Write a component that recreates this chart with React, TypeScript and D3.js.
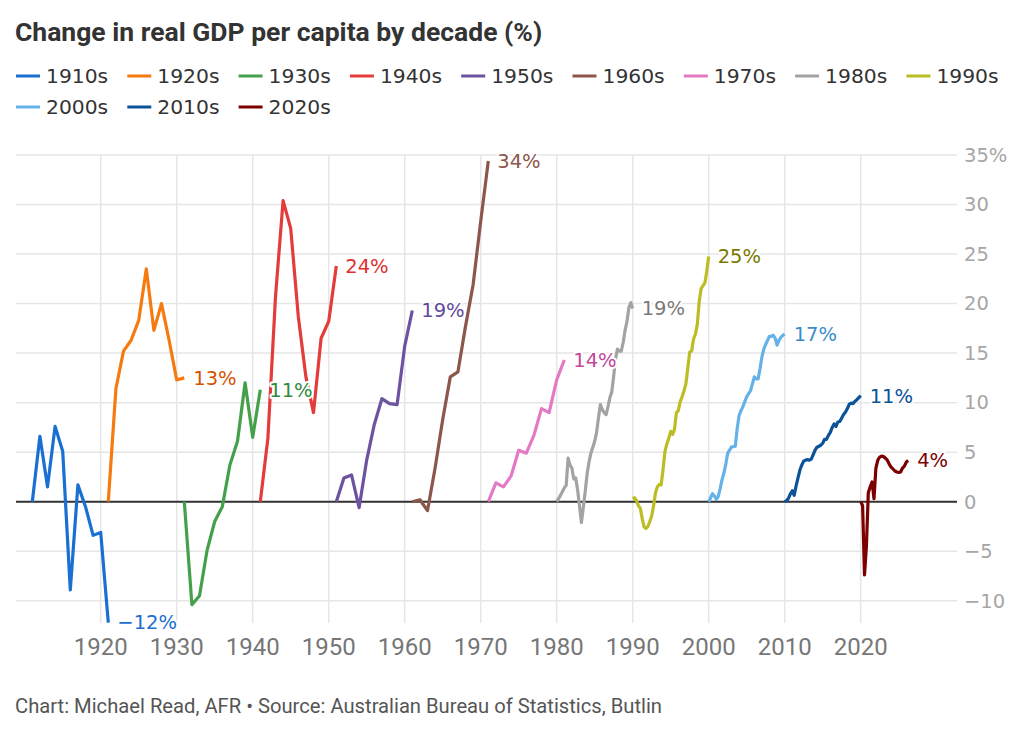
import * as d3 from 'd3'

const decades = ['1910s', '1920s', '1930s', '1940s', '1950s', '1960s', '1970s', '1980s', '1990s', '2000s', '2010s', '2020s']
const lineColors = ['#1a6fd2', '#f57b10', '#45a04b', '#e43c3a', '#6c52a1', '#8c564b', '#e479c4', '#a3a3a3', '#bcbd22', '#65b2e8', '#0c5299', '#7d0000']
const labelColors = ['#1a6fd2', '#d35400', '#2f8a3e', '#e0312f', '#62499a', '#8c564b', '#c2479b', '#7a7a7a', '#7a7a00', '#3a8dc8', '#0c5299', '#7d0000']
const endLabels = ['−12%', '13%', '11%', '24%', '19%', '34%', '14%', '19%', '25%', '17%', '11%', '4%']

// first year of each series and spacing between points (years)
const startYears = [1911, 1921, 1931, 1941, 1951, 1961, 1971, 1980, 1990, 2000, 2010, 2020]
const steps = [1, 1, 1, 1, 1, 1, 1, 0.25, 0.25, 0.25, 0.25, 0.25]

const v1910s = [0, 6.6, 1.5, 7.6, 5.1, -8.9, 1.7, -0.5, -3.4, -3.1, -12.2]
const v1920s = [0, 11.4, 15.2, 16.3, 18.3, 23.5, 17.3, 20.0, 16.3, 12.3, 12.5]
const v1930s = [0, -10.4, -9.5, -4.9, -2.0, -0.5, 3.7, 6.1, 12.0, 6.5, 11.3]
const v1940s = [0, 6.4, 20.7, 30.4, 27.6, 18.7, 12.6, 9.0, 16.5, 18.2, 23.8]
const v1950s = [0, 2.4, 2.7, -0.6, 4.2, 7.8, 10.4, 9.9, 9.8, 15.7, 19.3]
const v1960s = [0, 0.2, -0.9, 3.4, 8.3, 12.6, 13.1, 17.7, 21.9, 28.3, 34.4]
const v1970s = [0, 1.9, 1.5, 2.6, 5.2, 4.9, 6.7, 9.4, 9.0, 12.3, 14.3]
const v1980s = [0, 0.3, 0.65, 1.0, 1.4, 1.65, 4.4, 3.7, 3.4, 2.3, 2.4, 1.2, -0.4, -2.1, -0.6, 1.0, 2.8, 4.0, 4.9, 5.5, 6.1, 7.0, 8.5, 9.8, 9.3, 9.0, 8.8, 9.6, 10.5, 11.1, 12.7, 14.5, 15.4, 15.2, 15.2, 16.1, 17.3, 18.2, 19.6, 20.1, 19.5]
const v1990s = [0.3, 0.4, 0.1, -0.4, -0.65, -1.7, -2.55, -2.7, -2.5, -2.0, -1.45, -0.4, 0.9, 1.5, 1.75, 1.7, 3.3, 5.1, 5.85, 6.4, 7.1, 6.8, 7.3, 9.0, 9.2, 10.1, 10.6, 11.2, 11.9, 13.5, 15.1, 15.2, 16.4, 16.9, 17.9, 20.2, 21.5, 21.8, 22.1, 23.3, 24.75]
const v2000s = [0, 0.4, 0.8, 0.6, 0.25, 0.5, 1.3, 2.2, 2.9, 3.8, 4.9, 5.2, 5.55, 5.56, 5.6, 7.4, 8.7, 9.2, 9.6, 10.1, 10.6, 10.9, 11.2, 11.9, 12.6, 12.4, 12.4, 13.4, 14.6, 15.4, 15.9, 16.3, 16.7, 16.7, 16.8, 16.5, 15.8, 16.3, 16.6, 16.8, 16.9]
const v2010s = [0, 0.1, 0.35, 0.8, 1.1, 0.65, 1.6, 2.4, 3.2, 3.7, 4.1, 4.2, 4.25, 4.2, 4.3, 4.75, 5.2, 5.5, 5.6, 5.7, 5.9, 6.3, 6.3, 6.7, 7.0, 7.5, 7.85, 7.6, 8.05, 8.1, 8.45, 8.8, 9.05, 9.4, 9.85, 9.95, 9.9, 10.15, 10.3, 10.5, 10.7]
const v2020s = [0, -0.4, -7.4, -4.5, 0.9, 1.5, 2.0, 0.3, 3.4, 4.2, 4.5, 4.6, 4.55, 4.4, 4.2, 3.8, 3.5, 3.3, 3.1, 3.0, 2.95, 3.0, 3.4, 3.6, 4.0, 4.15]

const seriesValues = [v1910s, v1920s, v1930s, v1940s, v1950s, v1960s, v1970s, v1980s, v1990s, v2000s, v2010s, v2020s]

const xTicks = [1920, 1930, 1940, 1950, 1960, 1970, 1980, 1990, 2000, 2010, 2020]
const yTicks = [-10, -5, 0, 5, 10, 15, 20, 25, 30, 35]

const W = 1021
const H = 732
const left = 16
const right = 957
const top = 155
const bottom = 623

const x = d3.scaleLinear().domain([1920, 2020]).range([100.7, 860.7])
const y = d3.scaleLinear().domain([0, 35]).range([501.7, top])

const legendFont = '"DejaVu Sans", sans-serif'
const narrowFont = 'Roboto, sans-serif'

export default function App() {
  const series = seriesValues.map((vals, i) =>
    vals.map((v, j) => ({ year: startYears[i] + j * steps[i], v }))
  )
  const line = d3.line<{ year: number; v: number }>()
    .x(d => x(d.year))
    .y(d => y(d.v))

  return (
    <svg width={W} height={H} style={{ position: 'absolute', left: 0, top: 0, background: '#fff' }}>
      <text x={15} y={41} fontFamily={narrowFont} fontWeight={700} fontSize={26.5} fill="#333">
        Change in real GDP per capita by decade (%)
      </text>

      {decades.map((d, i) => {
        const lx = 16 + (i % 9) * 111.3
        const ly = 76 + Math.floor(i / 9) * 31
        return (
          <g key={d}>
            <line x1={lx} x2={lx + 24} y1={ly} y2={ly} stroke={lineColors[i]} strokeWidth={3} />
            <text x={lx + 30} y={ly} dy="0.36em" fontFamily={legendFont} fontSize={20.3} fill="#333">{d}</text>
          </g>
        )
      })}

      {yTicks.map(t => (
        <line key={'gy' + t} x1={left} x2={right} y1={y(t)} y2={y(t)} stroke="#e6e6e6" strokeWidth={1.5} />
      ))}
      {xTicks.map(t => (
        <line key={'gx' + t} x1={x(t)} x2={x(t)} y1={top} y2={bottom} stroke="#e6e6e6" strokeWidth={1.5} />
      ))}

      {yTicks.map(t => (
        <text key={'ty' + t} x={964} y={y(t)} dy="0.35em" fontFamily={legendFont} fontSize={19.5} fill="#a6a6a6">
          {(t < 0 ? '−' + Math.abs(t) : String(t)) + (t === 35 ? '%' : '')}
        </text>
      ))}
      {xTicks.map(t => (
        <text key={'tx' + t} x={x(t)} y={647} dy="0.35em" textAnchor="middle" fontFamily={narrowFont} fontSize={24} fill="#767676">
          {t}
        </text>
      ))}

      <line x1={left} x2={right} y1={y(0)} y2={y(0)} stroke="#333" strokeWidth={2} />

      {series.map((s, i) => (
        <path key={'s' + i} d={line(s) ?? ''} fill="none" stroke={lineColors[i]} strokeWidth={3.2} strokeLinejoin="round" />
      ))}

      {series.map((s, i) => {
        const last = s[s.length - 1]
        return (
          <text key={'l' + i} x={x(last.year) + 9} y={y(last.v)} dy="0.35em"
            fontFamily={legendFont} fontSize={19.5} fill={labelColors[i]}
            stroke="#fff" strokeWidth={4} paintOrder="stroke" strokeLinejoin="round">
            {endLabels[i]}
          </text>
        )
      })}

      <text x={15} y={713} fontFamily={narrowFont} fontSize={20.2} fill="#555">
        Chart: Michael Read, AFR • Source: Australian Bureau of Statistics, Butlin
      </text>
    </svg>
  )
}
